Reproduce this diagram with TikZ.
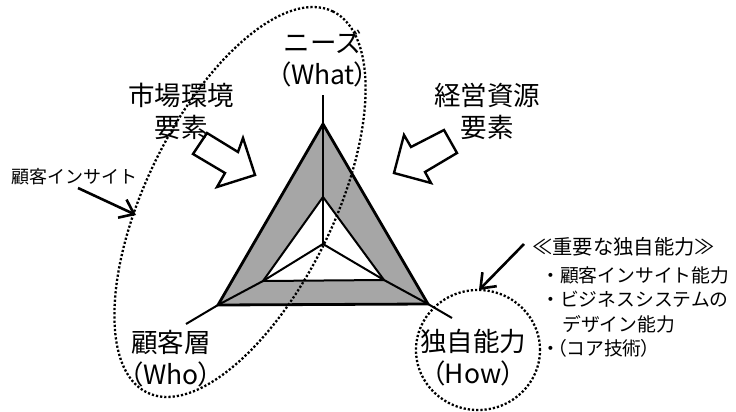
\documentclass[tikz,border=0pt]{standalone}
\usepackage{fontspec}
\setmainfont{Noto Sans CJK JP}
\newfontfamily\pfont{Noto Sans CJK JP}[RawFeature=+palt]
\usetikzlibrary{arrows.meta}
\tikzset{
  big/.style={font=\fontsize{26.5}{32}\selectfont, align=center, inner sep=0pt},
  small/.style={font=\fontsize{18}{24}\selectfont, inner sep=0pt},
  headtext/.style={font=\fontsize{20.3}{24.5}\selectfont, inner sep=0pt},
  listtext/.style={font=\fontsize{18.8}{24.5}\selectfont, inner sep=0pt},
  blockarrow/.style={draw=black, fill=white, line width=2.4pt, line join=miter},
  dotline/.style={line width=2.3pt, dash pattern=on 2.2pt off 2pt},
  pointer/.style={line width=2.6pt, -{Straight Barb[length=13pt,width=20pt,line width=2.6pt]}},
  spoke/.style={line width=2pt, line join=round},
}
\begin{document}
\begin{tikzpicture}[x=1pt,y=-1pt]
\useasboundingbox (0,0) rectangle (736,412);
% vertices
\coordinate (T) at (323,124);
\coordinate (L) at (218,305);
\coordinate (R) at (428,304);
\coordinate (iT) at (323,197);
\coordinate (iL) at (263,281);
\coordinate (iR) at (384,280);
\coordinate (C) at (323,244);
\coordinate (eT) at (323,95);
\coordinate (eL) at (186,324);
\coordinate (eR) at (452,318);
% fills
\fill[black!35] (T) -- (L) -- (R) -- cycle;
\fill[white] (iT) -- (iL) -- (iR) -- cycle;
\draw[line width=2pt, line join=miter] (iT) -- (iL) -- (iR) -- cycle;
\draw[spoke] (eT) -- (C);
\draw[spoke] (C) -- (iL) -- (L) -- (eL);
\draw[spoke] (C) -- (iR) -- (R) -- (eR);
\draw[line width=2.8pt, line join=miter] (T) -- (L) -- (R) -- cycle;
% block arrows
\draw[blockarrow] (207,133) -- (238,152) -- (243,138) -- (255,175) -- (217,187) -- (225,173) -- (193,154) -- cycle;
\draw[blockarrow] (444,130) -- (411,147) -- (404,135) -- (394,173) -- (431,183) -- (425,172) -- (457,153) -- cycle;
% dotted ellipses
\coordinate (E1) at (240,202);
\draw[dotline, rotate around={64:(E1)}] (E1) ellipse [x radius=212pt, y radius=94pt];
\coordinate (E2) at (478,350);
\draw[dotline] (E2) ellipse [x radius=62pt, y radius=60pt];
% labels
\node[big] (what) at (323,59) {ニーズ\\{\pfont （What）}};
\node[big] (market) at (181,111) {市場環境\\要素};
\node[big] (resource) at (487,111) {経営資源\\要素};
\node[big] (who) at (171,359) {顧客層\\{\pfont （Who）}};
\node[big] (how) at (473,358) {独自能力\\{\pfont （How）}};
\node[small, anchor=base west] (insight) at (11,183) {顧客インサイト};
\node[headtext, anchor=base west] (head) at (532,254) {≪重要な独自能力≫};
\node[listtext, anchor=base west, align=left] (list) at (541,355.5) {・顧客インサイト能力\\・ビジネスシステムの\\\hspace*{21pt}デザイン能力\\・\kern-3pt{\pfont （}コア技術{\pfont ）}};
% pointers
\coordinate (p1s) at (78,188);
\coordinate (p1e) at (136,215);
\draw[pointer] (p1s) -- (p1e);
\coordinate (p2s) at (524,244);
\coordinate (p2e) at (479,290);
\draw[pointer] (p2s) -- (p2e);
\end{tikzpicture}
\end{document}
